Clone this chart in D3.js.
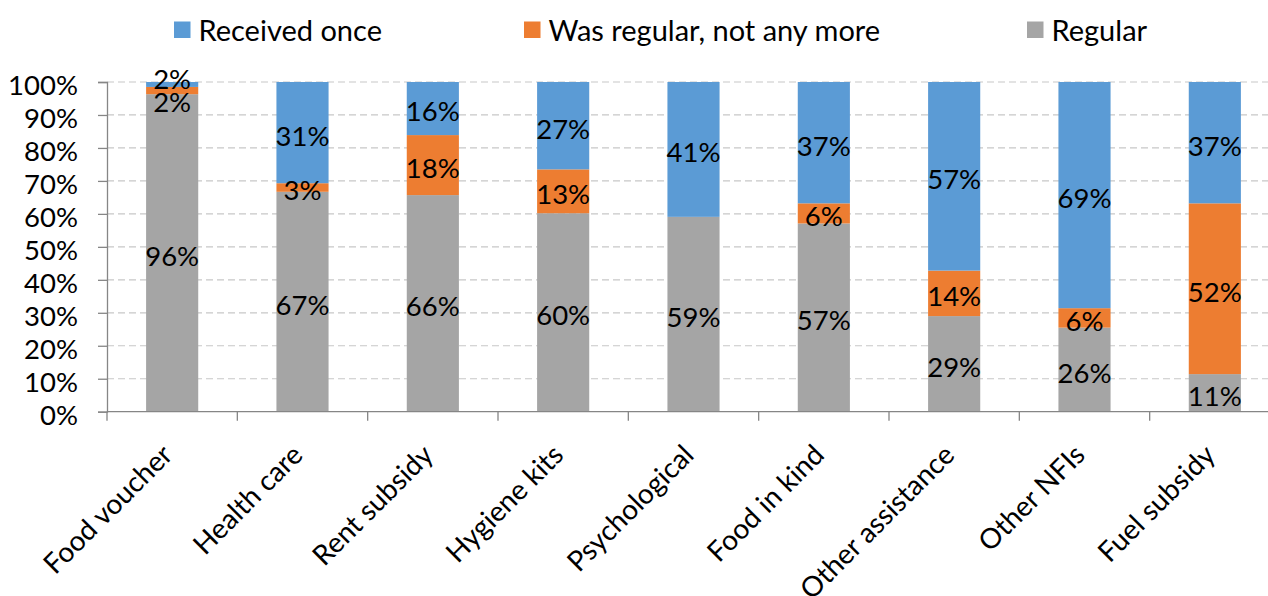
<!DOCTYPE html>
<html>
<head>
<meta charset="utf-8">
<script src="https://cdn.jsdelivr.net/npm/d3@7/dist/d3.min.js"></script>
<style>
  html, body { margin: 0; padding: 0; background: #fff; }
  svg { display: block; }
  text { font-family: Lato, "Open Sans", sans-serif; fill: #000; }
</style>
</head>
<body>
<svg id="chart" width="1268" height="596"></svg>
<script>
const categories = ["Food voucher", "Health care", "Rent subsidy", "Hygiene kits", "Psychological", "Food in kind", "Other assistance", "Other NFIs", "Fuel subsidy"];
const regular      = [96.3, 66.7, 65.7, 60.2, 59.1, 57.1, 29.0, 25.5, 11.4];
const wasRegular   = [2.2, 2.6, 18.2, 13.3, 0, 6.1, 13.8, 5.9, 51.8];
const receivedOnce = [1.5, 30.7, 16.1, 26.5, 40.9, 36.8, 57.2, 68.6, 36.8];
const seriesNames  = ["Regular", "Was regular, not any more", "Received once"];
const legendOrder  = ["Received once", "Was regular, not any more", "Regular"];
const yTicks       = [0, 10, 20, 30, 40, 50, 60, 70, 80, 90, 100];

const colors = { "Regular": "#A5A5A5", "Was regular, not any more": "#ED7D31", "Received once": "#5B9BD5" };

const svg = d3.select("#chart");
const numSize = 27.5;
const catSize = 28;
const legendSize = 29;

const rows = categories.map((c, i) => ({
  cat: c,
  "Regular": regular[i],
  "Was regular, not any more": wasRegular[i],
  "Received once": receivedOnce[i]
}));

const x = d3.scaleBand().domain(categories).range([107, 1280]).paddingInner(0.6).paddingOuter(0.3);
const y = d3.scaleLinear().domain([0, 100]).range([411.7, 82]);

// gridlines
svg.append("g").selectAll("line").data(yTicks.filter(d => d > 0)).join("line")
  .attr("x1", 107).attr("x2", 1268)
  .attr("y1", d => y(d)).attr("y2", d => y(d))
  .attr("stroke", "#C8C8C8").attr("stroke-width", 1.2)
  .attr("stroke-dasharray", "7,4");

// stacked bars
const stack = d3.stack().keys(seriesNames);
const stacked = stack(rows);

const gBars = svg.append("g");
stacked.forEach(layer => {
  gBars.append("g").selectAll("rect").data(layer).join("rect")
    .attr("x", d => x(d.data.cat))
    .attr("width", x.bandwidth())
    .attr("y", d => y(d[1]))
    .attr("height", d => Math.max(0, y(d[0]) - y(d[1])))
    .attr("fill", colors[layer.key]);
});

// axes
const yAxis = d3.axisLeft(y).tickValues(yTicks).tickFormat(d => d + "%").tickSize(9).tickPadding(20);
const gy = svg.append("g").attr("transform", "translate(107,0)").call(yAxis);
gy.select(".domain").attr("stroke", "#868686").attr("stroke-width", 1.3);
gy.selectAll(".tick line").attr("stroke", "#868686").attr("stroke-width", 1.3);
gy.selectAll(".tick text").attr("font-size", numSize).attr("font-family", "Lato, sans-serif")
  .attr("dy", "0.38em").attr("y", 2.5).attr("fill", "#000");

// x axis line + boundary ticks
const gx = svg.append("g");
gx.append("line").attr("x1", 107).attr("x2", 1268).attr("y1", y(0)).attr("y2", y(0))
  .attr("stroke", "#868686").attr("stroke-width", 1.3);
const boundaries = d3.range(categories.length + 1).map(i => x.range()[0] + i * x.step());
gx.selectAll("line.tk").data(boundaries).join("line").attr("class", "tk")
  .attr("x1", d => d).attr("x2", d => d).attr("y1", y(0)).attr("y2", y(0) + 9)
  .attr("stroke", "#868686").attr("stroke-width", 1.3);

// category labels
gx.selectAll("text.cat").data(categories).join("text").attr("class", "cat")
  .attr("transform", d => `translate(${x(d) + x.bandwidth() / 2 + 2},${y(0) + 45}) rotate(-45)`)
  .attr("text-anchor", "end")
  .attr("font-size", catSize)
  .text(d => d);

// value labels with simple collision avoidance per bar
const labels = [];
rows.forEach((r, i) => {
  const items = [];
  stacked.forEach(layer => {
    const d = layer[i];
    const v = d[1] - d[0];
    if (v > 0) items.push({ cat: r.cat, v: v, cy: (y(d[0]) + y(d[1])) / 2 + 3 });
  });
  const minGap = 22.5;
  for (let k = 0; k < items.length - 1; k++) {
    const a = items[k], b = items[k + 1];
    if (a.cy - b.cy < minGap) {
      const mid = (a.cy + b.cy) / 2;
      a.cy = mid + minGap / 2;
      b.cy = mid - minGap / 2;
    }
  }
  items.forEach(it => labels.push(it));
});
svg.append("g").selectAll("text").data(labels).join("text")
  .attr("x", d => x(d.cat) + x.bandwidth() / 2)
  .attr("y", d => d.cy)
  .attr("dy", "0.36em")
  .attr("text-anchor", "middle")
  .attr("font-size", numSize)
  .text(d => Math.round(d.v) + "%");

// legend
const legendX = [174, 524, 1027];
const gl = svg.append("g");
legendOrder.forEach((name, i) => {
  gl.append("rect").attr("x", legendX[i]).attr("y", 21.5).attr("width", 16.5).attr("height", 16.5)
    .attr("fill", colors[name]);
  gl.append("text").attr("x", legendX[i] + 24.5).attr("y", 31).attr("dy", "0.36em")
    .attr("font-size", legendSize).text(name);
});
</script>
</body>
</html>
